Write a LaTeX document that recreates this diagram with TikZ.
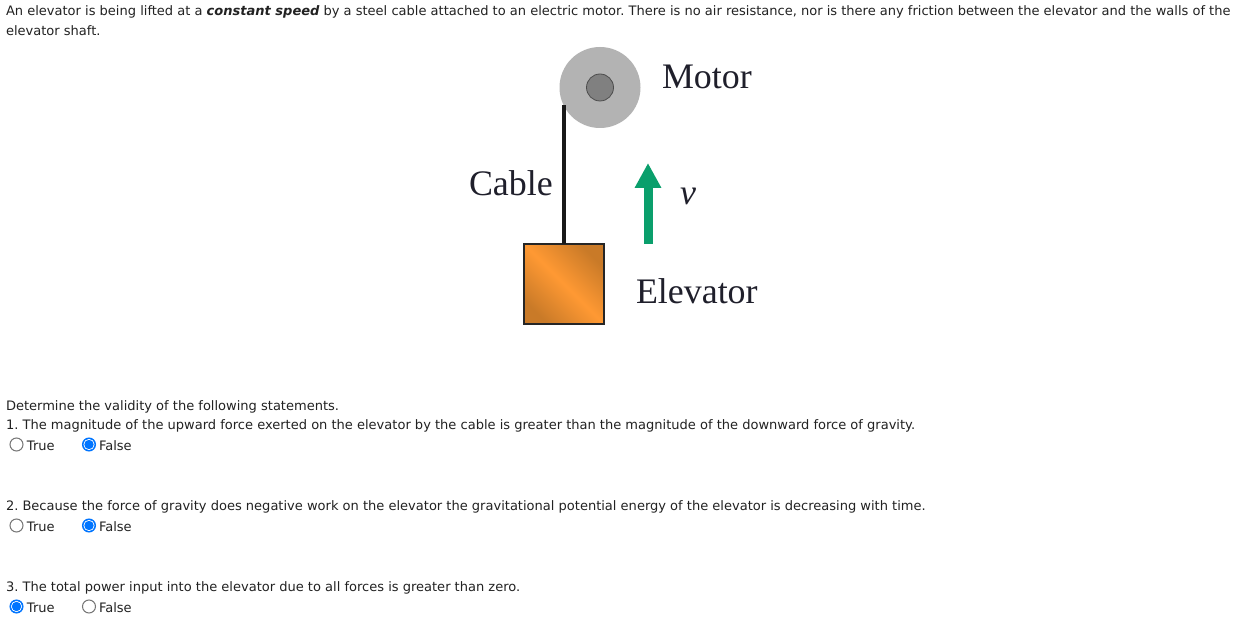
\documentclass[tikz,border=0pt]{standalone}
\usepackage{fontspec}
\setmainfont{DejaVu Sans}
\newfontfamily\figserif{Liberation Serif}
\usetikzlibrary{arrows.meta}
\definecolor{txt}{HTML}{222222}
\definecolor{figtxt}{HTML}{1F1F2B}
\definecolor{pulleygray}{HTML}{B3B3B3}
\definecolor{hubgray}{HTML}{808080}
\definecolor{arrowgreen}{HTML}{0A9F6C}
\definecolor{orangelight}{HTML}{FF9933}
\definecolor{orangedark}{HTML}{C97A28}
\definecolor{radioblue}{HTML}{0075FF}
\definecolor{radiogray}{HTML}{767676}
\tikzset{
  x=1pt,y=-1pt,
  webtext/.style={anchor=base west,inner sep=0pt,outer sep=0pt,text=txt,font=\fontsize{13.02}{15}\selectfont\frenchspacing},
  figlabel/.style={anchor=base west,inner sep=0pt,outer sep=0pt,text=figtxt,font=\fontsize{35.9}{40}\selectfont\figserif},
  radiooff/.style={circle,draw=radiogray,fill=white,line width=1pt,minimum size=13pt,inner sep=0pt},
  radioon/.style={circle,draw=radioblue,fill=radioblue,line width=1pt,minimum size=13pt,inner sep=0pt,
    path picture={\fill[white] (path picture bounding box.center) circle[radius=5.6pt];
                  \fill[radioblue] (path picture bounding box.center) circle[radius=4.7pt];}},
}
\begin{document}
\begin{tikzpicture}
\useasboundingbox (0,0) rectangle (1243,636);
\fill[white] (0,0) rectangle (1243,636);
% intro
\node[webtext] (intro1) at (6,16) {An elevator is being lifted at a {\bfseries\itshape constant speed} by a steel cable attached to an electric motor. There is no air resistance, nor is there any friction between the elevator and the walls of the};
\node[webtext] (intro2) at (6,36) {elevator shaft.};
% figure
\node[circle,fill=pulleygray,minimum size=81pt,inner sep=0pt,outer sep=0pt] (pulley) at (600,87.5) {};
\node[circle,fill=hubgray,draw=black!70,line width=0.8pt,minimum size=27pt,inner sep=0pt] (hub) at (600,87.5) {};
\node[rectangle,draw=black!85,line width=2pt,minimum size=80pt,inner sep=0pt,outer sep=0pt,
      shading=axis,top color=orangedark,bottom color=orangedark,middle color=orangelight,shading angle=-45] (elevator) at (564,284) {};
\draw[line width=3.6pt,black!90] (elevator.north |- pulley.206) -- (elevator.north);
\coordinate (vtail) at (648,244);
\coordinate (vhead) at (648,163);
\draw[arrowgreen,line width=9pt,-{Triangle[length=25pt,width=25pt]}] (vtail) -- (vhead);
\node[figlabel] (motor) at (662,89) {Motor};
\node[figlabel] (cable) at (469,196) {Cable};
\node[figlabel,font=\fontsize{35.9}{40}\selectfont\figserif\itshape] (v) at (680,205) {v};
\node[figlabel] (elev) at (636,304) {Elevator};
% statements
\node[webtext] (det) at (6,410) {Determine the validity of the following statements.};
\node[webtext] (s1) at (6,429) {1. The magnitude of the upward force exerted on the elevator by the cable is greater than the magnitude of the downward force of gravity.};
\node[radiooff] (t1) at (16.5,444.5) {};
\node[webtext] (t1l) at (27,450) {True};
\node[radioon] (f1) at (89,444.5) {};
\node[webtext] (f1l) at (99,450) {False};
\node[webtext] (s2) at (6,510) {2. Because the force of gravity does negative work on the elevator the gravitational potential energy of the elevator is decreasing with time.};
\node[radiooff] (t2) at (16.5,525.5) {};
\node[webtext] (t2l) at (27,531) {True};
\node[radioon] (f2) at (89,525.5) {};
\node[webtext] (f2l) at (99,531) {False};
\node[webtext] (s3) at (6,591) {3. The total power input into the elevator due to all forces is greater than zero.};
\node[radioon] (t3) at (16.5,606.5) {};
\node[webtext] (t3l) at (27,612) {True};
\node[radiooff] (f3) at (89,606.5) {};
\node[webtext] (f3l) at (99,612) {False};
\end{tikzpicture}
\end{document}
